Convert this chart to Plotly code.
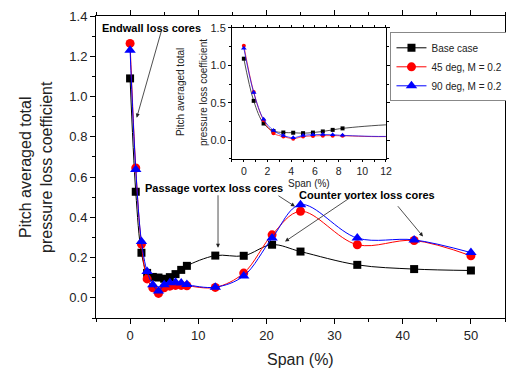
import plotly.graph_objects as go

# ---- data ----
span = [0, 0.833, 1.667, 2.5, 3.333, 4.167, 5.0, 5.833, 6.667, 7.5, 8.333,
        12.5, 16.67, 20.83, 25, 33.33, 41.67, 50]
base_case = [1.09, 0.527, 0.224, 0.124, 0.104, 0.101, 0.095, 0.103, 0.118, 0.139, 0.159,
             0.21, 0.209, 0.264, 0.23, 0.164, 0.143, 0.136]
deg45 = [1.264, 0.645, 0.267, 0.094, 0.05, 0.022, 0.05, 0.058, 0.062, 0.062, 0.06,
         0.052, 0.123, 0.313, 0.43, 0.264, 0.285, 0.209]
deg90 = [1.23, 0.637, 0.28, 0.131, 0.065, 0.034, 0.065, 0.075, 0.078, 0.074, 0.066,
         0.053, 0.109, 0.297, 0.463, 0.297, 0.288, 0.225]

names = ["Base case", "45 deg, M = 0.2", "90 deg, M = 0.2"]
colors = ["black", "red", "blue"]
symbols = ["square", "circle", "triangle-up"]
main_sizes = [8, 9, 10]
inset_sizes = [4, 4, 5]
series = [base_case, deg45, deg90]

FONT = "Liberation Sans, Arial, sans-serif"
TXT = "#222"

fig = go.Figure()
for name, c, s, ms, ys in zip(names, colors, symbols, main_sizes, series):
    fig.add_trace(go.Scatter(
        x=span, y=ys, name=name, mode="lines+markers",
        line=dict(color=c, width=1, shape="spline", smoothing=1.0),
        marker=dict(color=c, symbol=s, size=ms),
        xaxis="x", yaxis="y"))
for name, c, s, ms, ys in zip(names, colors, symbols, inset_sizes, series):
    fig.add_trace(go.Scatter(
        x=span, y=ys, name=name, mode="lines+markers", showlegend=False,
        line=dict(color=c, width=0.7, shape="spline", smoothing=1.0),
        marker=dict(color=c, symbol=s, size=ms),
        xaxis="x2", yaxis="y2"))

axis_common = dict(showgrid=False, zeroline=False, showline=True, linecolor="black",
                   linewidth=1, mirror="ticks", ticks="outside", tickcolor="black",
                   automargin=False)

fig.update_layout(
    width=506, height=371,
    margin=dict(l=96, r=1, t=16, b=53, autoexpand=False),
    paper_bgcolor="white", plot_bgcolor="white",
    font=dict(family=FONT, color=TXT),
    xaxis=dict(range=[-5, 55], dtick=10, tick0=0, ticklen=5, tickwidth=1,
               tickfont=dict(size=13, family=FONT, color=TXT),
               minor=dict(dtick=5, ticklen=3, ticks="outside", tickcolor="black"),
               **axis_common),
    yaxis=dict(range=[-0.1, 1.4], dtick=0.2, tick0=0, tickformat=".1f", ticklen=5,
               tickfont=dict(size=13, family=FONT, color=TXT),
               minor=dict(dtick=0.1, ticklen=3, ticks="outside", tickcolor="black"),
               **axis_common),
    xaxis2=dict(domain=[0.3325, 0.709], anchor="y2", range=[-1, 12], dtick=2, tick0=0,
                ticklen=2, tickfont=dict(size=10.5, family=FONT, color=TXT),
                minor=dict(dtick=1, ticklen=2, ticks="outside", tickcolor="black"),
                **axis_common),
    yaxis2=dict(domain=[0.5265, 0.9603], anchor="x2", range=[-0.25, 1.5], dtick=0.5,
                tick0=0, tickformat=".1f", ticklen=3,
                tickfont=dict(size=11, family=FONT, color=TXT),
                minor=dict(dtick=0.25, ticklen=2, ticks="outside", tickcolor="black"),
                **axis_common),
    legend=dict(x=0.72, y=0.946, xanchor="left", yanchor="top",
                bordercolor="#888", borderwidth=1, bgcolor="white",
                font=dict(size=10, family=FONT, color=TXT),
                itemwidth=30, tracegroupgap=0),
    showlegend=True,
)

ann = []
def txt(text, x, y, size, angle=0, color=TXT):
    ann.append(dict(text=text, xref="paper", yref="paper", x=x, y=y,
                    xanchor="center", yanchor="middle", textangle=angle,
                    showarrow=False, font=dict(size=size, family=FONT, color=color)))

# axis titles
txt("Pitch averaged total<br>pressure loss coefficient", -0.147, 0.5, 16, -90)
txt("Span (%)", 0.5, -0.139, 16)
txt("Span (%)", 0.5208, 0.447, 10)
txt("Pitch averaged total", 0.2054, 0.748, 10, -90)
txt("pressure loss coefficient", 0.2616, 0.748, 10, -90)
# labels
txt("<b>Endwall loss cores</b>", 0.1345, 0.960, 11, 0, "black")
txt("<b>Passage vortex loss cores</b>", 0.2885, 0.4305, 11, 0, "black")
txt("<b>Counter vortex loss cores</b>", 0.6638, 0.4073, 11, 0, "black")

# arrows (head x,y ; tail ax,ay in data units)
for hx, hy, tx, ty in [(0.97, 0.895, 4.64, 1.332),
                       (12.9, 0.249, 12.9, 0.517),
                       (24.19, 0.454, 21.55, 0.512),
                       (22.73, 0.280, 32.5, 0.503),
                       (42.97, 0.305, 39.1, 0.4626)]:
    ann.append(dict(text="", x=hx, y=hy, ax=tx, ay=ty, xref="x", yref="y",
                    axref="x", ayref="y", showarrow=True, arrowhead=2, arrowsize=1,
                    arrowwidth=0.8, arrowcolor="#222", standoff=0))
fig.update_layout(annotations=ann)

fig.write_html("out.html", config={"displayModeBar": False},
               post_script="document.body.style.margin='0';")
